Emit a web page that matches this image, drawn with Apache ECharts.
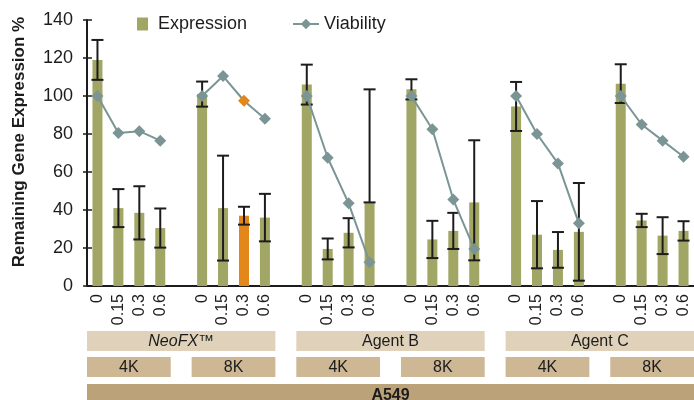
<!DOCTYPE html>
<html>
<head>
<meta charset="utf-8">
<script src="https://cdn.jsdelivr.net/npm/echarts@6/dist/echarts.min.js"></script>
<style>
  html, body { margin: 0; padding: 0; background: #fff; }
  #chart { width: 694px; height: 400px; }
</style>
</head>
<body>
<div id="chart"></div>
<script>
// doses per group, group labels
var doses = ['0', '0.15', '0.3', '0.6'];
var agents = ['NeoFX™', 'Agent B', 'Agent C'];
var sizes = ['4K', '8K'];
var cellLine = 'A549';

// 6 groups x 4 doses (NeoFX 4K, NeoFX 8K, B 4K, B 8K, C 4K, C 8K)
var expression = [119, 41, 38.5, 30.5, 101, 41, 37, 36, 106, 19.5, 28, 44, 103.5, 24.5, 29, 44, 94.5, 27, 19, 28.5, 106.5, 34.5, 26.5, 29];
var errPlus = [10.5, 10, 14, 10.3, 6.6, 27.6, 4.7, 12.5, 10.5, 5.5, 7.7, 59.5, 5.3, 9.8, 9.5, 32.7, 12.9, 17.7, 9.4, 25.7, 10.2, 3.5, 9.7, 5.1];
var errMinus = [10.5, 10, 14, 10.3, 6.6, 27.6, 4.7, 12.5, 10.5, 5.5, 7.7, 0, 5.3, 9.8, 9.5, 30.5, 12.9, 17.7, 9.4, 25.7, 10.2, 3.5, 9.7, 5.1];
var viability = [100, 80.5, 81.5, 76.5, 100, 110.5, 97.5, 88, 100, 67.5, 43.5, 12.5, 100, 82.5, 45.5, 19.5, 100, 80, 64.5, 33, 100, 85, 76.5, 68];
var highlightIdx = 6; // NeoFX 8K, 0.3

var olive = '#A2A664';
var orange = '#E3871B';
var grey = '#7B9595';
var ink = '#1c1c1c';
var font = '"Liberation Sans", Arial, sans-serif';

// build 29 slots: 4 doses then an empty gap
var categories = [];
var barData = [];
var lineData = [];
var errData = [];
function slotOf(i) { return Math.floor(i / 4) * 5 + (i % 4); }
for (var g = 0; g < 6; g++) {
  for (var d = 0; d < 4; d++) {
    var i = g * 4 + d;
    categories.push(doses[d]);
    if (i === highlightIdx) {
      barData.push({ value: expression[i], itemStyle: { color: orange } });
      lineData.push({ value: viability[i], itemStyle: { color: orange } });
    } else {
      barData.push(expression[i]);
      lineData.push(viability[i]);
    }
    errData.push([slotOf(i), expression[i] - errMinus[i], expression[i] + errPlus[i]]);
  }
  if (g < 5) {
    categories.push('');
    barData.push(null);
    lineData.push(null);
  }
}

var chart = echarts.init(document.getElementById('chart'));

var option = {
  animation: false,
  textStyle: { fontFamily: font },
  grid: { left: 87, top: 20, width: 609, height: 266 },
  legend: [
    {
      data: [{ name: 'Expression', icon: 'rect' }], left: 137, top: 15, padding: 0,
      itemWidth: 11, itemHeight: 13,
      textStyle: { fontSize: 18, color: ink, padding: [0, 0, 0, 5] }
    },
    {
      data: ['Viability'], left: 292, top: 15, padding: 0, itemWidth: 26, itemHeight: 13,
      textStyle: { fontSize: 18, color: ink }
    }
  ],
  xAxis: [
    {
      type: 'category', data: categories, boundaryGap: true,
      axisLine: { lineStyle: { color: ink, width: 2 } },
      axisTick: { interval: 0, length: 6, lineStyle: { color: ink, width: 1.5 } },
      axisLabel: { interval: 0, rotate: 90, fontSize: 16, color: ink, margin: 8 }
    },
    {
      type: 'category', data: categories, position: 'bottom',
      axisLine: { show: false },
      axisTick: { inside: true, interval: 0, length: 6, lineStyle: { color: ink, width: 1.5 } },
      axisLabel: { show: false }
    }
  ],
  yAxis: [
    {
      type: 'value', min: 0, max: 140, interval: 20,
      axisLine: { show: true, lineStyle: { color: ink, width: 2 } },
      axisTick: { show: true, length: 4, lineStyle: { color: ink, width: 1.5 } },
      axisLabel: { fontSize: 18, color: ink, margin: 14 },
      splitLine: { show: false }
    },
    {
      type: 'value', min: 0, max: 140, interval: 20, position: 'left',
      axisLine: { show: false },
      axisTick: { show: true, inside: true, length: 5, lineStyle: { color: ink, width: 1.5 } },
      axisLabel: { show: false },
      splitLine: { show: false }
    }
  ],
  series: [
    {
      name: 'Expression', type: 'bar', data: barData, barWidth: 10,
      itemStyle: { color: olive }, z: 2
    },
    {
      name: 'err', type: 'custom', data: errData, z: 3,
      renderItem: function (params, api) {
        var top = api.coord([api.value(0), api.value(2)]);
        var bot = api.coord([api.value(0), api.value(1)]);
        var hw = 6;
        var st = { stroke: ink, lineWidth: 2 };
        return {
          type: 'group',
          children: [
            { type: 'line', shape: { x1: top[0], y1: top[1], x2: bot[0], y2: bot[1] }, style: st },
            { type: 'line', shape: { x1: top[0] - hw, y1: top[1], x2: top[0] + hw, y2: top[1] }, style: st },
            { type: 'line', shape: { x1: bot[0] - hw, y1: bot[1], x2: bot[0] + hw, y2: bot[1] }, style: st }
          ]
        };
      }
    },
    {
      name: 'Viability', type: 'line', data: lineData, connectNulls: false,
      symbol: 'diamond', symbolSize: 12, z: 4,
      itemStyle: { color: grey }, lineStyle: { color: grey, width: 2 }
    }
  ]
};
chart.setOption(option);

// band rows under the axis, placed from the category scale
var c0 = chart.convertToPixel({ xAxisIndex: 0 }, 0);
var c1 = chart.convertToPixel({ xAxisIndex: 0 }, 1);
var slotW = c1 - c0;
function leftOf(s) { return chart.convertToPixel({ xAxisIndex: 0 }, s) - slotW / 2; }
function rightOf(s) { return chart.convertToPixel({ xAxisIndex: 0 }, s) + slotW / 2; }

var graphics = [];
function band(x1, x2, y, h, fill, label, fnt) {
  graphics.push({ type: 'rect', shape: { x: x1, y: y, width: x2 - x1, height: h }, style: { fill: fill }, silent: true });
  graphics.push({
    type: 'text', x: (x1 + x2) / 2, y: y + h / 2 + 1, silent: true,
    style: { text: label, font: fnt, fill: ink, textAlign: 'center', textVerticalAlign: 'middle' }
  });
}
for (var a = 0; a < agents.length; a++) {
  var s0 = a * 10;
  band(leftOf(s0), rightOf(s0 + 8), 331, 20, '#E0D2BA', agents[a],
    (a === 0 ? 'italic ' : '') + '16px ' + font);
  for (var k = 0; k < sizes.length; k++) {
    var ss = s0 + k * 5;
    band(leftOf(ss), rightOf(ss + 3), 357, 20, '#CDB795', sizes[k], '16px ' + font);
  }
}
band(leftOf(0), rightOf(28), 384, 22, '#BBA278', cellLine, 'bold 16px ' + font);

graphics.push({
  type: 'text', x: 19, y: 142, rotation: Math.PI / 2, silent: true,
  style: { text: 'Remaining Gene Expression %', font: 'bold 17px ' + font, fill: ink, textAlign: 'center', textVerticalAlign: 'middle' }
});

chart.setOption({ graphic: graphics });
</script>
</body>
</html>
